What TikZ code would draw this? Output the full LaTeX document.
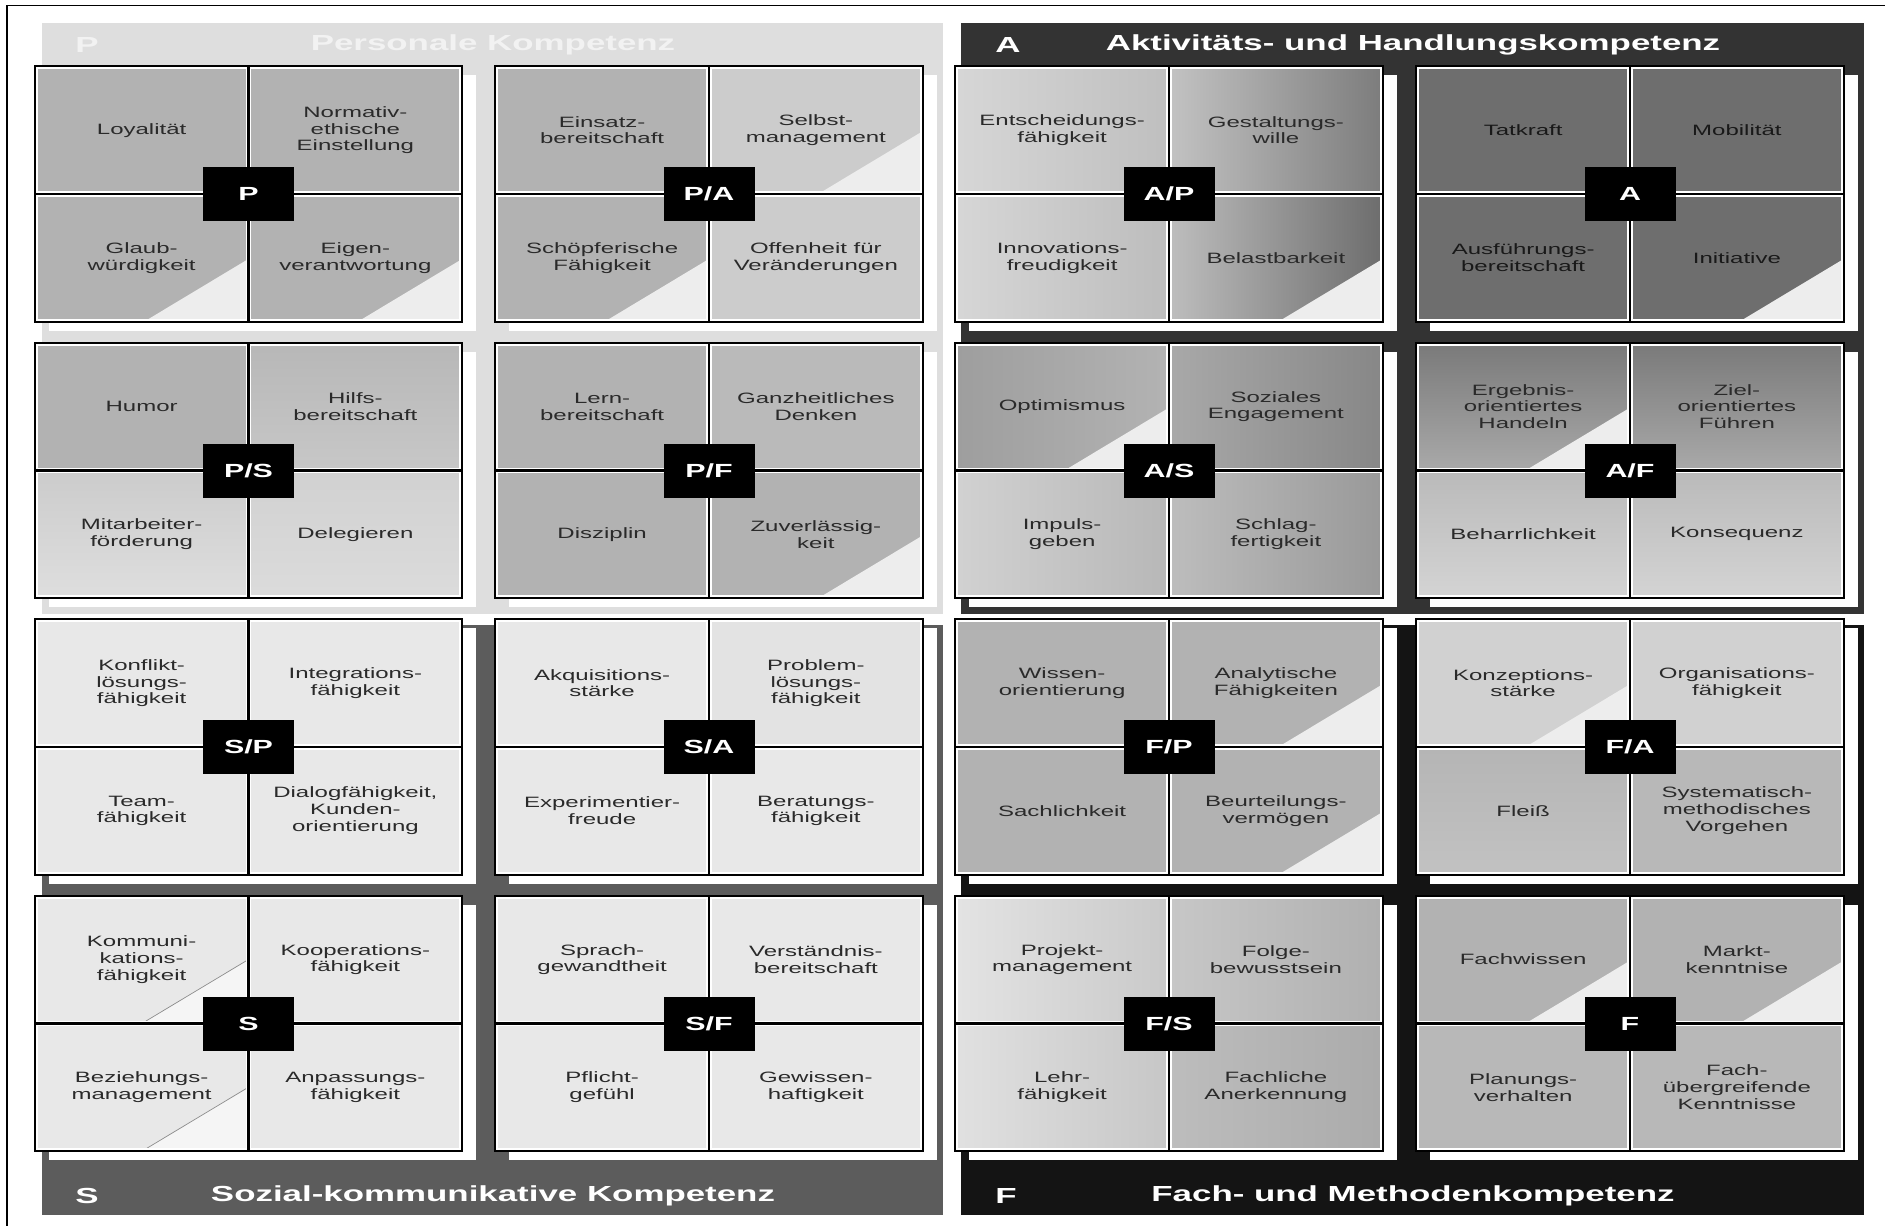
\documentclass[tikz,border=0pt]{standalone}
\usepackage{fontspec}
\setmainfont{Liberation Sans}[FakeStretch=1.6]
\usetikzlibrary{calc}
\definecolor{txt}{HTML}{2A2A2A}
\definecolor{pcol}{HTML}{DEDEDE}
\definecolor{acol}{HTML}{333333}
\definecolor{scol}{HTML}{5C5C5C}
\definecolor{fcol}{HTML}{141414}
\definecolor{tricol}{HTML}{EDEDED}
\newcommand\mkblock[3]{%
  \node[shadowbox] (sh-#1) at ($(#2,#3)+(14,9)$) {};
  \node[blockbox] (b-#1) at (#2,#3) {};}
\newcommand\mkcell[6]{\node[cell,#5] (c-#1-#2) at ($(b-#1.center)+(#3,#4)$) {#6};}
\newcommand\cTL[3]{\mkcell{#1}{tl}{-106.875}{-63.875}{#2}{#3}}
\newcommand\cTR[3]{\mkcell{#1}{tr}{106.875}{-63.875}{#2}{#3}}
\newcommand\cBL[3]{\mkcell{#1}{bl}{-106.875}{63.875}{#2}{#3}}
\newcommand\cBR[3]{\mkcell{#1}{br}{106.875}{63.875}{#2}{#3}}
\newcommand\mklabel[2]{%
  \draw[divider] (b-#1.north) -- (b-#1.south);
  \draw[divider] (b-#1.west) -- (b-#1.east);
  \draw[line width=2pt] (b-#1.north west) rectangle (b-#1.south east);
  \node[labelbox] (l-#1) at (b-#1.center) {#2};}
\begin{document}
\begin{tikzpicture}[x=1pt,y=-1pt,
  cell/.style={draw=white, line width=1pt, minimum width=209pt, minimum height=123pt,
    inner sep=0pt, outer sep=0pt, align=center, text=txt, font=\fontsize{15}{16.8}\selectfont},
  blockbox/.style={draw=black, line width=2pt, fill=white, minimum width=427.5pt,
    minimum height=255.5pt, inner sep=0pt, outer sep=0pt},
  shadowbox/.style={fill=white, minimum width=427.5pt, minimum height=255.5pt, inner sep=0pt, outer sep=0pt},
  divider/.style={black, line width=2.6pt},
  labelbox/.style={fill=black, text=white, minimum width=91pt, minimum height=54pt,
    inner sep=0pt, font=\bfseries\fontsize{19}{20}\selectfont},
  headtext/.style={text=white, inner sep=0pt, font=\bfseries\fontsize{21.8}{24}\selectfont},
  tri/.style={path picture={\fill[tricol]
    ($(path picture bounding box.south east)!0.47!(path picture bounding box.south west)$) --
    (path picture bounding box.south east) --
    ($(path picture bounding box.south east)!0.48!(path picture bounding box.north east)$) -- cycle;}},
  trio/.style={path picture={\fill[black!4]
    ($(path picture bounding box.south east)!0.48!(path picture bounding box.south west)$) --
    (path picture bounding box.south east) --
    ($(path picture bounding box.south east)!0.49!(path picture bounding box.north east)$) -- cycle;
    \draw[black!45, line width=0.7pt]
    ($(path picture bounding box.south east)!0.48!(path picture bounding box.south west)$) --
    ($(path picture bounding box.south east)!0.49!(path picture bounding box.north east)$);}},
  dk/.style={text=black!90},
]
\useasboundingbox (0,0) rectangle (1885,1226);
\fill[white] (0,0) rectangle (1885,1226);
% outer frame
\draw[line width=1.8pt] (7,1226) -- (7,5.5) -- (1885,5.5);
% panels
\fill[pcol] (42,22.5) rectangle (943,614);
\fill[acol] (961,22.5) rectangle (1864,614);
\fill[scol] (42,625) rectangle (943,1215);
\fill[fcol] (961,625) rectangle (1864,1215);
% headers
\node[headtext, text=black!5] (hP) at (87,45) {P};
\node[headtext, text=black!5] (tP) at (493,45) {Personale Kompetenz};
\node[headtext] (hA) at (1008,45) {A};
\node[headtext] (tA) at (1413,45) {Aktivitäts- und Handlungskompetenz};
\node[headtext] (hS) at (87,1196) {S};
\node[headtext] (tS) at (493,1196) {Sozial-kommunikative Kompetenz};
\node[headtext] (hF) at (1006,1196) {F};
\node[headtext] (tF) at (1413,1196) {Fach- und Methodenkompetenz};
% ---------- row 1
\mkblock{p}{248.5}{194}
\cTL{p}{fill=black!30}{Loyalität}
\cTR{p}{fill=black!30}{Normativ-\\ethische\\Einstellung}
\cBL{p}{fill=black!30,tri}{Glaub-\\würdigkeit}
\cBR{p}{fill=black!30,tri}{Eigen-\\verantwortung}
\mklabel{p}{P}
\mkblock{pa}{709}{194}
\cTL{pa}{fill=black!30}{Einsatz-\\bereitschaft}
\cTR{pa}{fill=black!20,tri}{Selbst-\\management}
\cBL{pa}{fill=black!30,tri}{Schöpferische\\Fähigkeit}
\cBR{pa}{fill=black!20}{Offenheit für\\Veränderungen}
\mklabel{pa}{P/A}
\mkblock{ap}{1169}{194}
\cTL{ap}{left color=black!16,right color=black!25}{Entscheidungs-\\fähigkeit}
\cTR{ap}{left color=black!24,right color=black!51}{Gestaltungs-\\wille}
\cBL{ap}{left color=black!16,right color=black!26}{Innovations-\\freudigkeit}
\cBR{ap}{left color=black!26,right color=black!57,tri}{Belastbarkeit}
\mklabel{ap}{A/P}
\mkblock{a}{1630}{194}
\cTL{a}{fill=black!57,dk}{Tatkraft}
\cTR{a}{fill=black!57,dk}{Mobilität}
\cBL{a}{fill=black!57,dk}{Ausführungs-\\bereitschaft}
\cBR{a}{fill=black!57,dk,tri}{Initiative}
\mklabel{a}{A}
% ---------- row 2
\mkblock{ps}{248.5}{470.5}
\cTL{ps}{fill=black!30}{Humor}
\cTR{ps}{top color=black!28,bottom color=black!22}{Hilfs-\\bereitschaft}
\cBL{ps}{top color=black!20,bottom color=black!13}{Mitarbeiter-\\förderung}
\cBR{ps}{top color=black!18,bottom color=black!14}{Delegieren}
\mklabel{ps}{P/S}
\mkblock{pf}{709}{470.5}
\cTL{pf}{fill=black!30}{Lern-\\bereitschaft}
\cTR{pf}{fill=black!27}{Ganzheitliches\\Denken}
\cBL{pf}{fill=black!30}{Disziplin}
\cBR{pf}{fill=black!30,tri}{Zuverlässig-\\keit}
\mklabel{pf}{P/F}
\mkblock{as}{1169}{470.5}
\cTL{as}{left color=black!38,right color=black!30,tri}{Optimismus}
\cTR{as}{left color=black!34,right color=black!47}{Soziales\\Engagement}
\cBL{as}{left color=black!18,right color=black!28}{Impuls-\\geben}
\cBR{as}{left color=black!26,right color=black!40}{Schlag-\\fertigkeit}
\mklabel{as}{A/S}
\mkblock{af}{1630}{470.5}
\cTL{af}{top color=black!52,bottom color=black!34,tri}{Ergebnis-\\orientiertes\\Handeln}
\cTR{af}{top color=black!52,bottom color=black!34}{Ziel-\\orientiertes\\Führen}
\cBL{af}{top color=black!27,bottom color=black!17}{Beharrlichkeit}
\cBR{af}{top color=black!27,bottom color=black!17}{Konsequenz}
\mklabel{af}{A/F}
% ---------- row 3
\mkblock{sp}{248.5}{747}
\cTL{sp}{fill=black!9}{Konflikt-\\lösungs-\\fähigkeit}
\cTR{sp}{fill=black!9}{Integrations-\\fähigkeit}
\cBL{sp}{fill=black!9}{Team-\\fähigkeit}
\cBR{sp}{fill=black!9}{Dialogfähigkeit,\\Kunden-\\orientierung}
\mklabel{sp}{S/P}
\mkblock{sa}{709}{747}
\cTL{sa}{fill=black!9}{Akquisitions-\\stärke}
\cTR{sa}{fill=black!11}{Problem-\\lösungs-\\fähigkeit}
\cBL{sa}{fill=black!9}{Experimentier-\\freude}
\cBR{sa}{fill=black!9}{Beratungs-\\fähigkeit}
\mklabel{sa}{S/A}
\mkblock{fp}{1169}{747}
\cTL{fp}{fill=black!30}{Wissen-\\orientierung}
\cTR{fp}{fill=black!30,tri}{Analytische\\Fähigkeiten}
\cBL{fp}{fill=black!30}{Sachlichkeit}
\cBR{fp}{fill=black!30,tri}{Beurteilungs-\\vermögen}
\mklabel{fp}{F/P}
\mkblock{fa}{1630}{747}
\cTL{fa}{fill=black!18,tri}{Konzeptions-\\stärke}
\cTR{fa}{fill=black!18}{Organisations-\\fähigkeit}
\cBL{fa}{top color=black!29,bottom color=black!24}{Fleiß}
\cBR{fa}{fill=black!28}{Systematisch-\\methodisches\\Vorgehen}
\mklabel{fa}{F/A}
% ---------- row 4
\mkblock{s}{248.5}{1023.5}
\cTL{s}{fill=black!9,trio}{Kommuni-\\kations-\\fähigkeit}
\cTR{s}{fill=black!9}{Kooperations-\\fähigkeit}
\cBL{s}{fill=black!9,trio}{Beziehungs-\\management}
\cBR{s}{fill=black!9}{Anpassungs-\\fähigkeit}
\mklabel{s}{S}
\mkblock{sf}{709}{1023.5}
\cTL{sf}{fill=black!9}{Sprach-\\gewandtheit}
\cTR{sf}{fill=black!9}{Verständnis-\\bereitschaft}
\cBL{sf}{fill=black!9}{Pflicht-\\gefühl}
\cBR{sf}{fill=black!9}{Gewissen-\\haftigkeit}
\mklabel{sf}{S/F}
\mkblock{fs}{1169}{1023.5}
\cTL{fs}{left color=black!11,right color=black!21}{Projekt-\\management}
\cTR{fs}{left color=black!22,right color=black!31}{Folge-\\bewusstsein}
\cBL{fs}{left color=black!12,right color=black!22}{Lehr-\\fähigkeit}
\cBR{fs}{left color=black!26,right color=black!33}{Fachliche\\Anerkennung}
\mklabel{fs}{F/S}
\mkblock{f}{1630}{1023.5}
\cTL{f}{fill=black!30,tri}{Fachwissen}
\cTR{f}{fill=black!30,tri}{Markt-\\kenntnise}
\cBL{f}{fill=black!28}{Planungs-\\verhalten}
\cBR{f}{fill=black!28}{Fach-\\übergreifende\\Kenntnisse}
\mklabel{f}{F}
\end{tikzpicture}
\end{document}
